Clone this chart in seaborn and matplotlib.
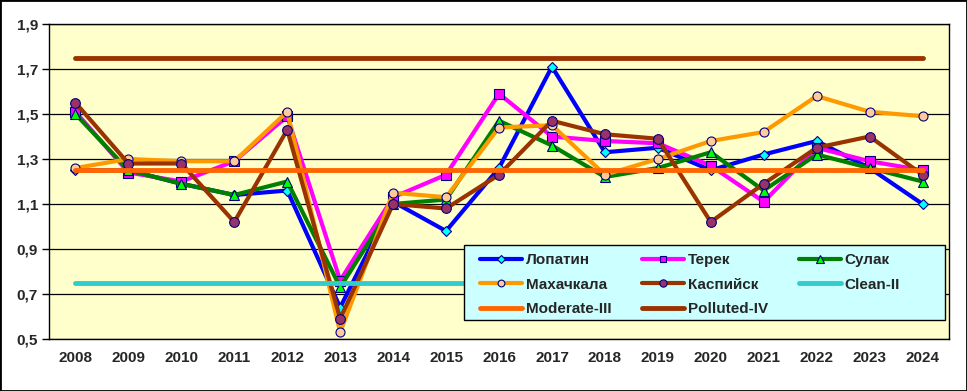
import matplotlib
matplotlib.use("Agg")
import matplotlib.pyplot as plt
import numpy as np
import pandas as pd
import seaborn as sns
from matplotlib.patches import Rectangle
from matplotlib.ticker import FixedLocator, FuncFormatter


YEARS = list(range(2008, 2025))

LOPATIN = [1.25, 1.25, 1.19, 1.14, 1.16, 0.64, 1.11, 0.98, 1.26, 1.71, 1.33, 1.35, 1.25, 1.32, 1.38, 1.26, 1.10]
TEREK = [1.51, 1.24, 1.20, 1.29, 1.49, 0.76, 1.13, 1.23, 1.59, 1.40, 1.38, 1.37, 1.27, 1.11, 1.35, 1.29, 1.25]
SULAK = [1.50, 1.25, 1.19, 1.14, 1.20, 0.73, 1.10, 1.12, 1.47, 1.36, 1.22, 1.26, 1.33, 1.16, 1.32, 1.26, 1.20]
MAKHACHKALA = [1.26, 1.30, 1.29, 1.29, 1.51, 0.53, 1.15, 1.13, 1.44, 1.45, 1.23, 1.30, 1.38, 1.42, 1.58, 1.51, 1.49]
KASPIYSK = [1.55, 1.28, 1.28, 1.02, 1.43, 0.59, 1.10, 1.08, 1.23, 1.47, 1.41, 1.39, 1.02, 1.19, 1.35, 1.40, 1.23]

CLEAN_II = 0.75
MODERATE_III = 1.25
POLLUTED_IV = 1.75

SERIES = [
    ("Лопатин", LOPATIN, "#0000FF", "D", "#00FFFF", 5.5),
    ("Терек", TEREK, "#FF00FF", "s", "#FF00FF", 6.5),
    ("Сулак", SULAK, "#008000", "^", "#00FF00", 7),
    ("Махачкала", MAKHACHKALA, "#FF9900", "o", "#FFCC99", 6.5),
    ("Каспийск", KASPIYSK, "#993300", "o", "#993366", 7),
]
LEVELS = [
    ("Clean-II", CLEAN_II, "#33CCCC"),
    ("Moderate-III", MODERATE_III, "#FF6600"),
    ("Polluted-IV", POLLUTED_IV, "#993300"),
]


def setup_style():
    sns.set_theme(style="white")
    plt.rcParams["font.family"] = ["Liberation Sans", "DejaVu Sans"]
    plt.rcParams["font.weight"] = "bold"


def main():
    setup_style()
    fig = plt.figure(figsize=(9.67, 3.91), dpi=100, facecolor="white")
    ax = fig.add_axes([49 / 967, 1 - 339 / 391, 900 / 967, 315 / 391])
    ax.set_facecolor("#FFFFCC")

    handles = {}
    for name, values, color, marker, face, size in SERIES:
        df = pd.DataFrame({"year": YEARS, "value": values})
        sns.lineplot(
            data=df, x="year", y="value", ax=ax, color=color, linewidth=3,
            marker=marker, markersize=size, markerfacecolor=face,
            markeredgecolor="#000080", markeredgewidth=0.8, zorder=3,
        )
        handles[name] = ax.lines[-1]

    for name, level, color in LEVELS:
        df = pd.DataFrame({"year": YEARS, "value": [level] * len(YEARS)})
        sns.lineplot(data=df, x="year", y="value", ax=ax, color=color,
                     linewidth=3.5, zorder=4, solid_capstyle="round")
        handles[name] = ax.lines[-1]

    ax.set_xlim(YEARS[0] - 0.5, YEARS[-1] + 0.5)
    ax.set_ylim(0.5, 1.9)
    ax.set_xlabel("")
    ax.set_ylabel("")

    ax.set_xticks(YEARS)
    ax.set_xticklabels([str(y) for y in YEARS], fontsize=11, fontweight="bold")
    ax.xaxis.set_minor_locator(FixedLocator(np.arange(YEARS[0] - 0.5, YEARS[-1] + 1)))
    ax.tick_params(axis="x", which="major", length=0, pad=9)
    ax.tick_params(axis="x", which="minor", length=5, width=1, color="black", direction="out")

    ax.set_yticks(np.arange(0.5, 1.91, 0.2))
    ax.yaxis.set_major_formatter(FuncFormatter(lambda v, _: f"{v:.1f}".replace(".", ",")))
    ax.tick_params(axis="y", length=5, width=1, color="black", direction="out", left=True, pad=3)
    for label in ax.get_yticklabels():
        label.set_fontsize(11)
        label.set_fontweight("bold")

    ax.grid(axis="y", color="black", linewidth=0.9)
    ax.set_axisbelow(True)
    for spine in ax.spines.values():
        spine.set_color("black")
        spine.set_linewidth(1)

    # legend box like the Excel one, legend entries drawn on top of it
    ax.add_patch(Rectangle((0.461, 0.06), 0.535, 0.238, transform=ax.transAxes,
                           facecolor="#CCFFFF", edgecolor="black", linewidth=1, zorder=9))
    order = ["Лопатин", "Махачкала", "Moderate-III", "Терек", "Каспийск", "Polluted-IV", "Сулак", "Clean-II"]
    legend = ax.legend(
        [handles[n] for n in order], order, ncol=3, loc="upper left",
        bbox_to_anchor=(0.4789, 0.272), frameon=False,
        prop={"size": 11, "weight": "bold"}, handlelength=2.75,
        handletextpad=0.25, columnspacing=2.0, labelspacing=0.68,
        borderaxespad=0, borderpad=0, markerscale=0.75,
    )
    legend.set_zorder(10)

    fig.patches.append(Rectangle((0, 0), 1, 1, transform=fig.transFigure,
                                 fill=False, edgecolor="black", linewidth=2))

    fig.savefig("out.png", dpi=100)
    plt.close(fig)


if __name__ == "__main__":
    main()
